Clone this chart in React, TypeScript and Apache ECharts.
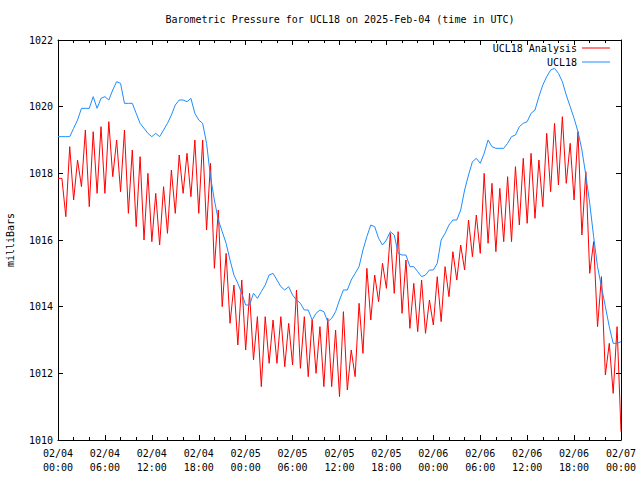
import React, { useEffect, useRef } from "react";
import * as echarts from "echarts";

// Time step between samples (hours from 02/04 00:00 UTC)
const STEP_HOURS = 0.5;

const xTickDates = ["02/04", "02/04", "02/04", "02/04", "02/05", "02/05", "02/05", "02/05", "02/06", "02/06", "02/06", "02/06", "02/07"];
const xTickTimes = ["00:00", "06:00", "12:00", "18:00", "00:00", "06:00", "12:00", "18:00", "00:00", "06:00", "12:00", "18:00", "00:00"];

// UCL18 Analysis (red), every 30 min from 02/04 00:00
const analysisValues = [
  1017.85, 1017.85, 1016.7, 1018.8, 1017.2, 1018.4, 1017.6, 1019.3, 1017.0, 1019.25, 1017.4, 1019.4,
  1017.4, 1019.55, 1017.9, 1019.0, 1017.45, 1019.3, 1016.8, 1018.7, 1016.4, 1018.5, 1016.0, 1018.0,
  1015.95, 1017.4, 1015.85, 1017.6, 1016.2, 1018.1, 1016.8, 1018.55, 1017.4, 1018.6, 1017.3, 1019.0,
  1016.8, 1019.0, 1016.3, 1018.3, 1015.15, 1016.9, 1014.0, 1015.6, 1013.5, 1014.65, 1012.85, 1014.8,
  1012.7, 1014.4, 1012.4, 1013.7, 1011.6, 1013.7, 1012.3, 1013.6, 1012.3, 1013.7, 1012.2, 1013.5,
  1012.25, 1014.5, 1012.15, 1013.7, 1011.9, 1013.6, 1012.0, 1013.4, 1011.6, 1013.65, 1011.6, 1013.3,
  1011.3, 1013.85, 1011.5, 1012.7, 1011.9, 1014.1, 1012.6, 1015.15, 1013.6, 1014.95, 1014.15, 1015.3,
  1014.55, 1016.2, 1014.4, 1016.25, 1013.8, 1015.4, 1013.35, 1014.7, 1013.25, 1014.8, 1013.2, 1014.2,
  1013.45, 1014.9, 1013.55, 1015.2, 1014.3, 1015.65, 1014.8, 1015.85, 1015.1, 1016.6, 1015.5, 1016.75,
  1015.6, 1018.0, 1015.9, 1017.7, 1015.65, 1017.55, 1015.95, 1017.9, 1015.95, 1018.2, 1016.45, 1018.45,
  1016.5, 1018.6, 1016.65, 1018.4, 1017.0, 1019.2, 1017.45, 1019.5, 1017.65, 1019.7, 1017.7, 1018.9,
  1017.2, 1019.25, 1016.15, 1018.05, 1015.0, 1015.95, 1013.4, 1014.9, 1011.95, 1012.9, 1011.4, 1013.4,
  1010.25,
];

// UCL18 observed (blue), every 30 min from 02/04 00:00
const stationValues = [
  1019.1, 1019.1, 1019.1, 1019.1, 1019.35, 1019.6, 1019.95, 1019.95, 1019.95, 1020.3, 1019.95, 1020.25,
  1020.3, 1020.2, 1020.5, 1020.75, 1020.7, 1020.1, 1020.1, 1020.1, 1019.8, 1019.5, 1019.35, 1019.2,
  1019.1, 1019.2, 1019.1, 1019.3, 1019.5, 1019.75, 1020.05, 1020.2, 1020.2, 1020.15, 1020.25, 1019.8,
  1019.6, 1019.5, 1018.9, 1017.9, 1017.2, 1016.6, 1016.25, 1015.9, 1015.4, 1014.95, 1014.7, 1014.4,
  1014.05, 1014.05, 1014.4, 1014.25, 1014.45, 1014.65, 1014.95, 1015.0, 1014.8, 1014.6, 1014.5, 1014.6,
  1014.35, 1014.2, 1014.1, 1013.9, 1013.9, 1013.6, 1013.8, 1013.9, 1013.85, 1013.55, 1013.65, 1013.85,
  1014.2, 1014.5, 1014.5, 1014.8, 1015.0, 1015.2, 1015.7, 1016.1, 1016.45, 1016.4, 1016.05, 1015.85,
  1016.0, 1016.25, 1016.15, 1015.6, 1015.55, 1015.55, 1015.2, 1015.2, 1015.05, 1014.9, 1014.95, 1015.1,
  1015.1, 1015.3, 1016.0, 1016.2, 1016.45, 1016.6, 1016.6, 1016.9, 1017.5, 1017.95, 1018.35, 1018.45,
  1018.3, 1018.6, 1019.0, 1018.8, 1018.75, 1018.75, 1018.75, 1018.9, 1019.1, 1019.15, 1019.4, 1019.5,
  1019.55, 1019.8, 1019.9, 1020.3, 1020.65, 1020.9, 1021.1, 1021.15, 1021.0, 1020.75, 1020.35, 1020.0,
  1019.65, 1019.25, 1018.7, 1017.95, 1017.1, 1016.1, 1015.2, 1014.6, 1014.0, 1013.4, 1012.9, 1012.9,
  1012.95,
];

const FONT = "DejaVu Sans Mono";

export default function App() {
  const ref = useRef<HTMLDivElement>(null);

  useEffect(() => {
    if (!ref.current) return;
    const chart = echarts.init(ref.current, undefined, { renderer: "svg" });
    const toPairs = (vals: number[]) => vals.map((v, i) => [i * STEP_HOURS, v]);
    const textStyle = { fontFamily: FONT, fontSize: 10, color: "#000" };
    const axisLine = { show: true, onZero: false, lineStyle: { color: "#000", width: 1 } };
    const tick = { show: true, inside: true, length: 5, lineStyle: { color: "#000" } };
    const minorTick = { show: true, splitNumber: 3, length: 3, lineStyle: { color: "#000" } };

    chart.setOption({
      animation: false,
      backgroundColor: "#fff",
      title: {
        text: "Barometric Pressure for UCL18 on 2025-Feb-04 (time in UTC)",
        left: 340,
        textAlign: "center",
        top: 14,
        padding: 0,
        textStyle: { ...textStyle, fontWeight: "normal" },
      },
      legend: [
        {
          data: ["UCL18 Analysis"],
          right: 30,
          top: 43,
          padding: 0,
          align: "right",
          icon: "rect",
          itemWidth: 28,
          itemHeight: 1,
          textStyle,
        },
        {
          data: ["UCL18"],
          right: 30,
          top: 57,
          padding: 0,
          align: "right",
          icon: "rect",
          itemWidth: 28,
          itemHeight: 1,
          textStyle,
        },
      ],
      grid: { left: 58, right: 19, top: 40, bottom: 40, containLabel: false, outerBoundsMode: "none" },
      xAxis: [
        {
          type: "value",
          position: "bottom",
          min: 0,
          max: 72,
          interval: 6,
          axisLine,
          axisTick: tick,
          minorTick,
          splitLine: { show: false },
          axisLabel: {
            ...textStyle,
            margin: 6,
            lineHeight: 14,
            formatter: (v: number) => {
              const i = Math.round(v / 6);
              return xTickDates[i] + "\n" + xTickTimes[i];
            },
          },
        },
        {
          type: "value",
          position: "top",
          min: 0,
          max: 72,
          interval: 6,
          axisLine,
          axisTick: tick,
          minorTick,
          splitLine: { show: false },
          axisLabel: { show: false },
        },
      ],
      yAxis: [
        {
          type: "value",
          position: "left",
          min: 1010,
          max: 1022,
          interval: 2,
          name: "milliBars",
          nameLocation: "middle",
          nameRotate: 90,
          nameGap: 43,
          nameTextStyle: textStyle,
          axisLine,
          axisTick: tick,
          splitLine: { show: false },
          axisLabel: { ...textStyle, margin: 5, formatter: (v: number) => String(v) },
        },
        {
          type: "value",
          position: "right",
          min: 1010,
          max: 1022,
          interval: 2,
          axisLine,
          axisTick: tick,
          splitLine: { show: false },
          axisLabel: { show: false },
        },
      ],
      series: [
        {
          name: "UCL18 Analysis",
          type: "line",
          data: toPairs(analysisValues),
          showSymbol: false,
          symbol: "none",
          color: "#ff0000",
          lineStyle: { color: "#ff0000", width: 1 },
          z: 2,
        },
        {
          name: "UCL18",
          type: "line",
          data: toPairs(stationValues),
          showSymbol: false,
          symbol: "none",
          color: "#1e8cff",
          lineStyle: { color: "#1e8cff", width: 1 },
          z: 3,
        },
      ],
    });

    return () => chart.dispose();
  }, []);

  return (
    <div
      ref={ref}
      style={{ position: "fixed", left: 0, top: 0, width: 640, height: 480, background: "#fff" }}
    />
  );
}
